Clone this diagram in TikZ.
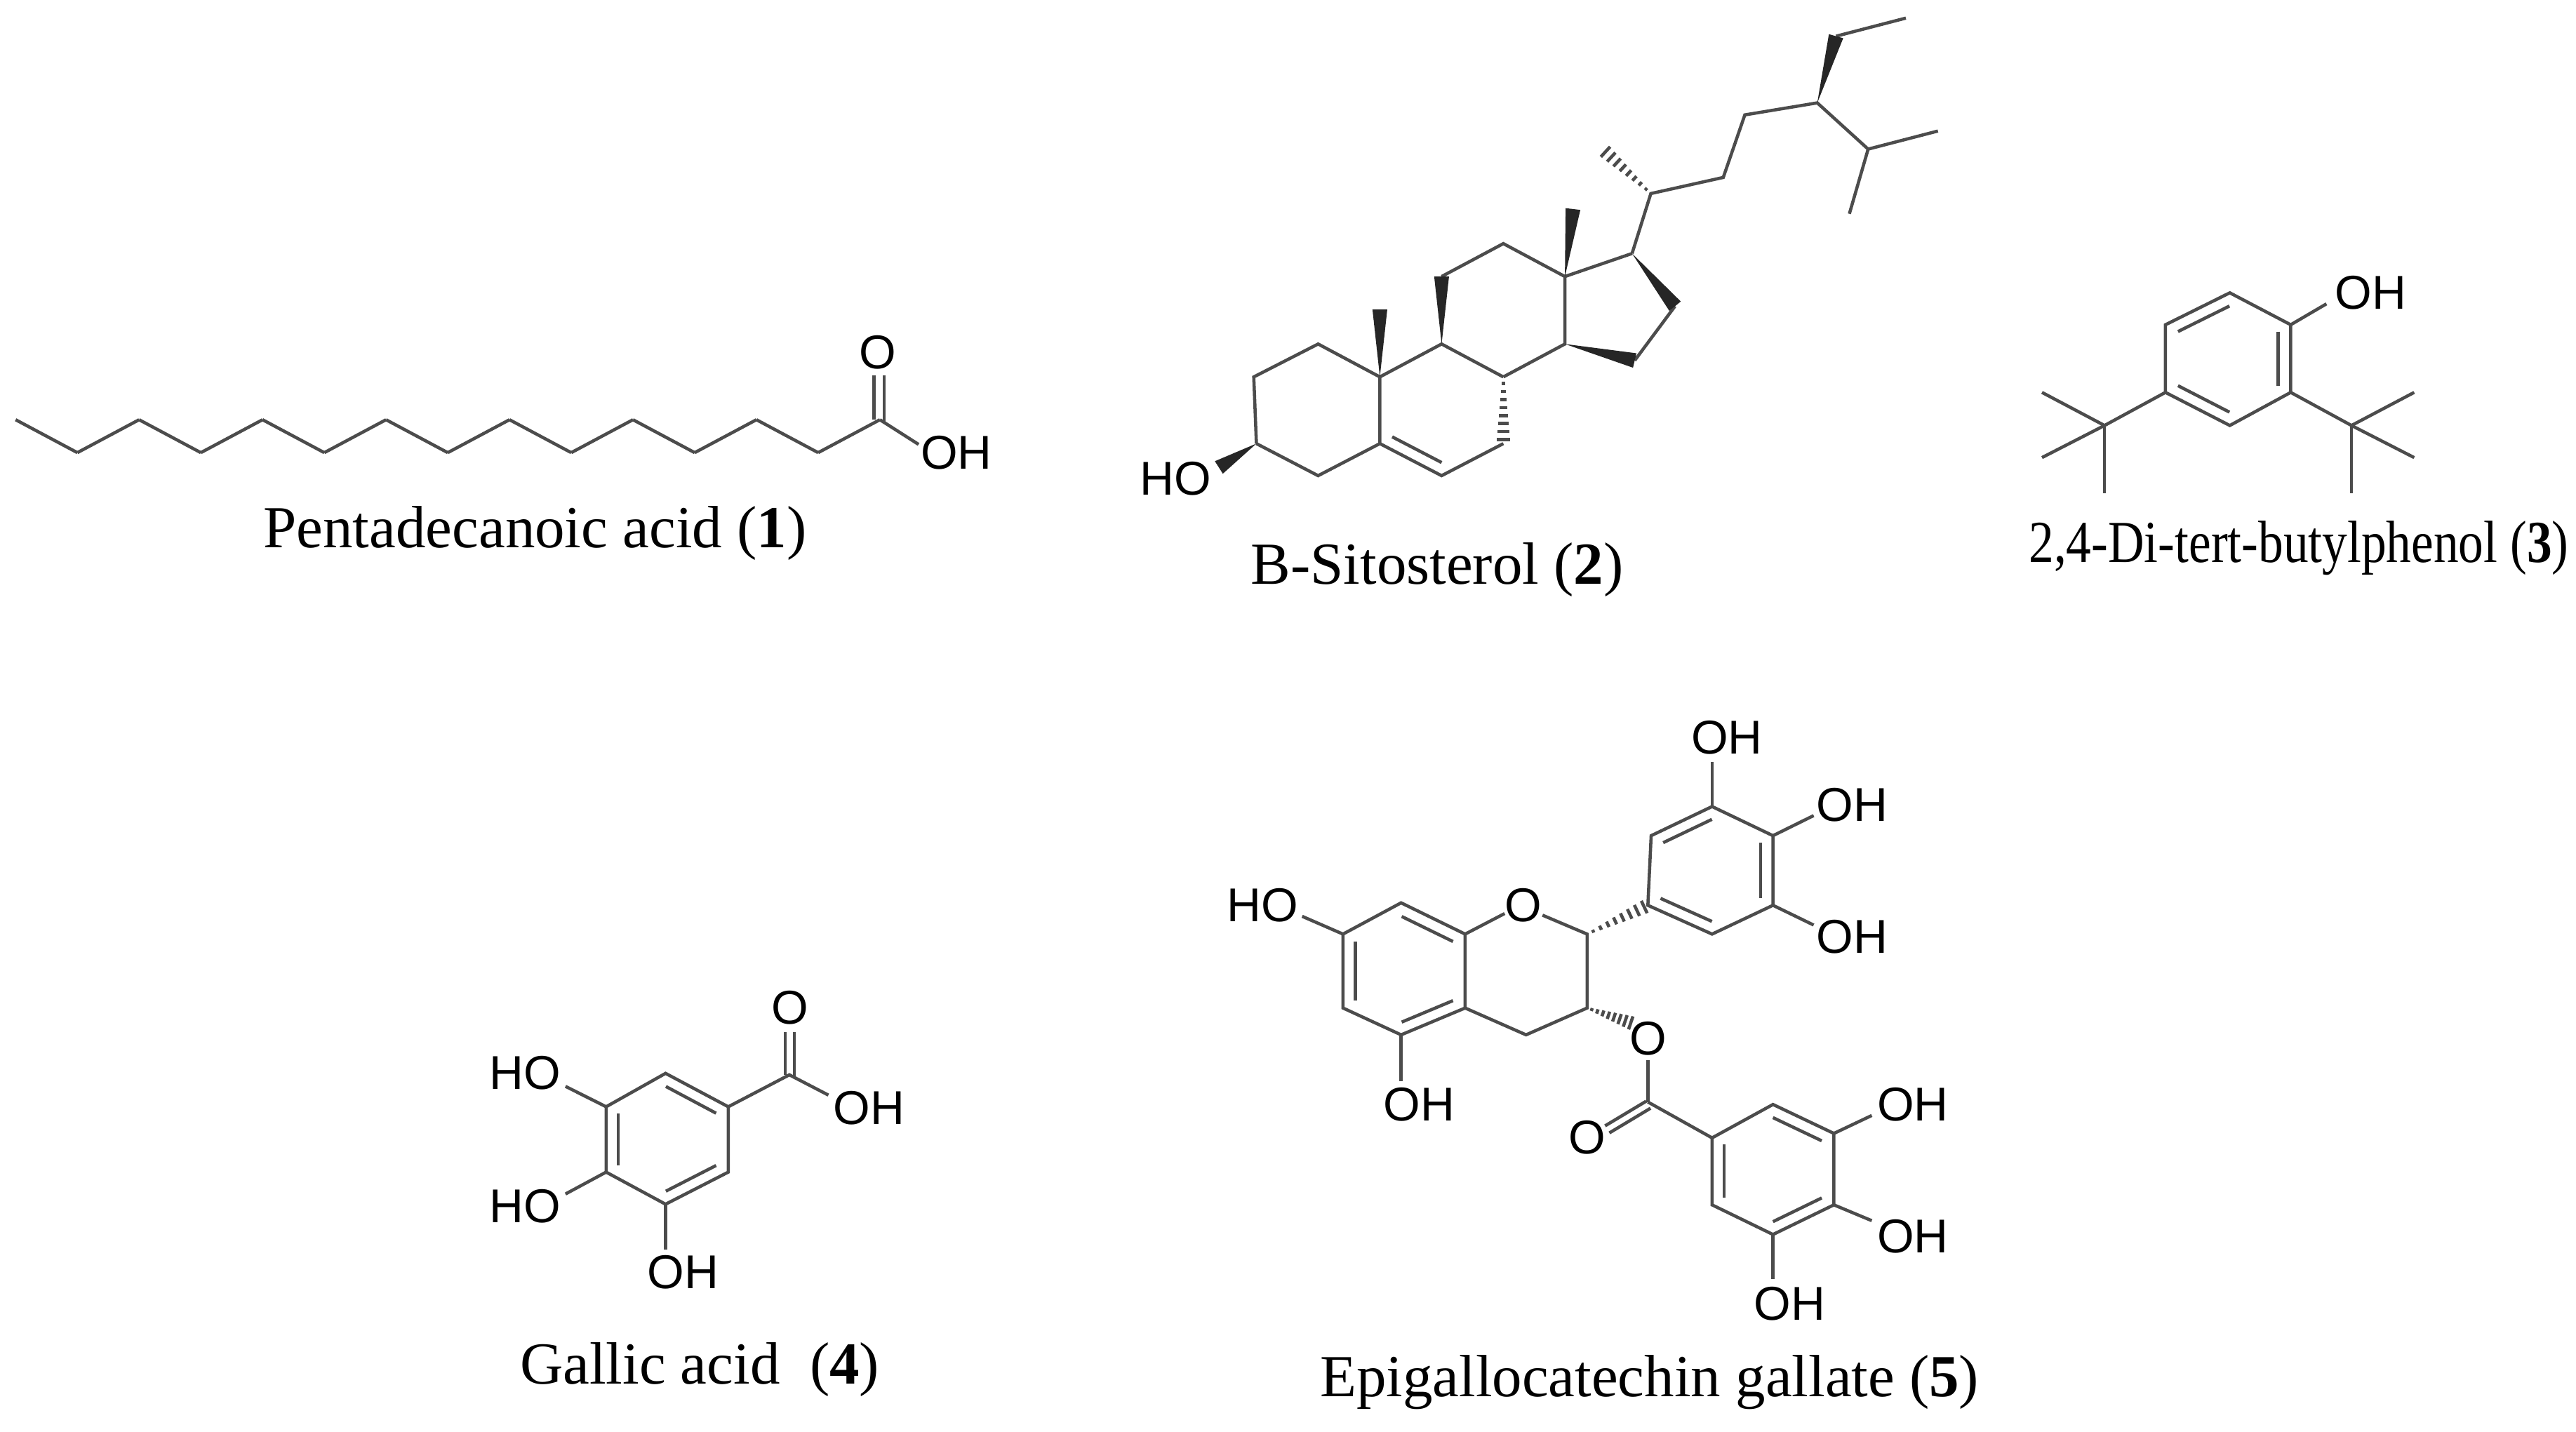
\documentclass[tikz,border=0pt]{standalone}
\usepackage{fontspec}
\setmainfont{Liberation Serif}
\newfontfamily\af{Liberation Sans}
\usetikzlibrary{calc}
\newcommand\wdg[2]{\fill[bondc] (#1) -- ($(#2)!0.045cm!90:(#1)$) -- ($(#2)!0.045cm!-90:(#1)$) -- cycle;}
\newcommand\hsh[2]{\foreach \t in {0.1,0.22,0.34,0.46,0.58,0.70,0.82,0.94}{\pgfmathsetmacro\w{0.15+1.1*\t}\draw[bond] ($(#1)!\t!(#2)!\w pt!90:(#2)$) -- ($(#1)!\t!(#2)!\w pt!-90:(#2)$);}}
\newcommand\inn[3]{\draw[bond] ($(#1)!0.2!(#3)$) -- ($(#2)!0.2!(#3)$);}
\begin{document}
\begin{tikzpicture}[x=0.01cm,y=-0.01cm,
  bond/.style={draw=black!70,line width=0.55pt},
  bondc/.style={fill=black!85},
  atom/.style={font=\af\fontsize{8.2}{9}\selectfont,inner sep=0pt},
  captxt/.style={font=\fontsize{10.3}{12}\selectfont,inner sep=0pt}]
\useasboundingbox[fill=white] (0,0) rectangle (1564.8,870);
% ---------- 1 ----------
\foreach \i in {0,...,14}{\pgfmathsetmacro\xx{9.5+37.5*\i}\pgfmathsetmacro\yy{isodd(\i)?275:255}\coordinate (c\i) at (\xx,\yy);}
\foreach \i [evaluate=\i as \j using int(\i+1)] in {0,...,13}{\draw[bond] (c\i) -- (c\j);}
\coordinate (c1o) at (558,270);
\draw[bond] (c14) -- (c1o);
\draw[bond] (531,255) -- (531,228); \draw[bond] (537,256) -- (537,228);
\node[atom] (o1) at (533,214) {O};
\node[atom] (oh1) at (581,275) {OH};
\node[captxt] (l1) at (325,324) {Pentadecanoic acid (\textbf{1})};
% ---------- 2 ----------
\coordinate (a1) at (761.6,229); \coordinate (a2) at (800.7,209); \coordinate (C10) at (838.2,229);
\coordinate (C5) at (838.2,269.5); \coordinate (a5) at (800.7,289); \coordinate (C3) at (763.2,269.5);
\coordinate (C9) at (875.7,209); \coordinate (C8) at (913.2,229); \coordinate (C7) at (913.2,269.5);
\coordinate (C6) at (875.7,289); \coordinate (cB) at (875.7,249);
\coordinate (C11) at (875.7,168); \coordinate (C12) at (913.2,148); \coordinate (C13) at (950.6,168);
\coordinate (C14) at (950.6,209); \coordinate (C17) at (991.4,154); \coordinate (C16) at (1017.5,186);
\coordinate (C15) at (993,219); \coordinate (C19) at (838.2,188); \coordinate (C18) at (955.5,127);
\coordinate (C20) at (1002.8,117.6); \coordinate (C21) at (973.5,90.6); \coordinate (C22) at (1046.8,107.8);
\coordinate (C23) at (1059.9,69.8); \coordinate (C24) at (1103.9,62.5); \coordinate (C28) at (1115.3,22);
\coordinate (C29) at (1157.7,11); \coordinate (C25) at (1134.8,90.6); \coordinate (C26) at (1177.2,79.6);
\coordinate (C27) at (1123.4,129.9); \coordinate (O3) at (740.4,284);
\draw[bond] (C3) -- (a1) -- (a2) -- (C10) -- (C5) -- (a5) -- (C3);
\draw[bond] (C10) -- (C9) -- (C8); \draw[bond] (C7) -- (C6) -- (C5);
\inn{C5}{C6}{cB}
\draw[bond] (C11) -- (C12) -- (C13) -- (C14) -- (C8);
\draw[bond] (C13) -- (C17); \draw[bond] (C16) -- (C15);
\draw[bond] (C17) -- (C20) -- (C22) -- (C23) -- (C24) -- (C25) -- (C26); \draw[bond] (C25) -- (C27);
\draw[bond] (C28) -- (C29);
\wdg{C10}{C19} \wdg{C9}{C11} \wdg{C13}{C18} \wdg{C17}{C16} \wdg{C14}{C15} \wdg{C24}{C28} \wdg{C3}{O3}
\hsh{C8}{C7} \hsh{C20}{C21}
\node[atom] (ho2) at (714,291) {HO};
\node[captxt] (l2) at (873,346) {B-Sitosterol (\textbf{2})};
% ---------- 3 ----------
\coordinate (r1) at (1354.5,177.9); \coordinate (r2) at (1391.5,197.3); \coordinate (r3) at (1391.5,238.4);
\coordinate (r4) at (1354.5,258.5); \coordinate (r5) at (1315.4,238.4); \coordinate (r6) at (1315.4,197.3);
\coordinate (rc) at (1353.5,218);
\draw[bond] (r1) -- (r2) -- (r3) -- (r4) -- (r5) -- (r6) -- cycle;
\inn{r6}{r1}{rc} \inn{r2}{r3}{rc} \inn{r4}{r5}{rc}
\coordinate (t1) at (1278.4,258.5); \coordinate (t2) at (1428.4,258.5);
\draw[bond] (r5) -- (t1) -- (1240.4,238.4); \draw[bond] (t1) -- (1240.4,278); \draw[bond] (t1) -- (1278.4,299.6);
\draw[bond] (r3) -- (t2) -- (1466.5,238.4); \draw[bond] (t2) -- (1466.5,278); \draw[bond] (t2) -- (1428.4,299.6);
\coordinate (r2o) at (1413.2,184.6);
\draw[bond] (r2) -- (r2o);
\node[atom] (oh3) at (1440,178) {OH};
\node[captxt,anchor=east] (l3) at (1561,333) {\scalebox{0.84}[1]{2,4-Di-tert-butylphenol (\textbf{3})}};
% ---------- 4 ----------
\coordinate (g1) at (404.3,652.1); \coordinate (g2) at (442.4,672.4); \coordinate (g3) at (442.4,712.1);
\coordinate (g4) at (404.3,731.6); \coordinate (g5) at (368.2,712.1); \coordinate (g6) at (368.2,672.4);
\coordinate (gc) at (405.3,692);
\draw[bond] (g1) -- (g2) -- (g3) -- (g4) -- (g5) -- (g6) -- cycle;
\inn{g1}{g2}{gc} \inn{g5}{g6}{gc} \inn{g3}{g4}{gc}
\coordinate (gC) at (479.5,653);
\draw[bond] (g2) -- (gC) -- (503.2,665.3);
\draw[bond] (477,653) -- (477,627); \draw[bond] (482.5,654) -- (482.5,627);
\draw[bond] (g6) -- (343.5,660); \draw[bond] (g5) -- (343.5,725.4); \draw[bond] (g4) -- (404.3,759);
\node[atom] (o4) at (480,612) {O};
\node[atom] (oh4a) at (528,673) {OH};
\node[atom] (ho4a) at (319,652) {HO};
\node[atom] (ho4b) at (319,733) {HO};
\node[atom] (oh4c) at (415,773) {OH};
\node[captxt] (l4) at (425,832) {Gallic acid\ \ (\textbf{4})};
% ---------- 5 ----------
\coordinate (e8) at (851.1,548.5); \coordinate (e8a) at (890,567.5); \coordinate (e4a) at (890,612.4);
\coordinate (e5) at (851.1,628.7); \coordinate (e6) at (815.8,612.4); \coordinate (e7) at (815.8,567.5);
\coordinate (eA) at (853,590);
\coordinate (e2) at (964.1,567.5); \coordinate (e3) at (964.1,612.4); \coordinate (e4) at (927,628.7);
\draw[bond] (e8) -- (e8a) -- (e4a) -- (e5) -- (e6) -- (e7) -- cycle;
\inn{e8}{e8a}{eA} \inn{e4a}{e5}{eA} \inn{e6}{e7}{eA}
\draw[bond] (e8a) -- (914,555); \draw[bond] (937,556) -- (e2) -- (e3) -- (e4) -- (e4a);
\draw[bond] (e7) -- (791,556.7); \draw[bond] (e5) -- (851.1,657);
\node[atom] (o5r) at (925.3,550) {O};
\node[atom] (ho5) at (767,550) {HO};
\node[atom] (oh5a) at (862,671) {OH};
% B ring
\coordinate (b1) at (1001,550); \coordinate (b2) at (1003,507.7); \coordinate (b3) at (1040,490);
\coordinate (b4) at (1077,507.7); \coordinate (b5) at (1077,550); \coordinate (b6) at (1040,567.5);
\coordinate (bc) at (1039.5,529);
\draw[bond] (b1) -- (b2) -- (b3) -- (b4) -- (b5) -- (b6) -- cycle;
\inn{b2}{b3}{bc} \inn{b4}{b5}{bc} \inn{b6}{b1}{bc}
\hsh{e2}{b1}
\draw[bond] (b3) -- (1040,463); \draw[bond] (b4) -- (1101.7,495.5); \draw[bond] (b5) -- (1101.7,562);
\node[atom] (oh5b) at (1049,448) {OH};
\node[atom] (oh5c) at (1125,489) {OH};
\node[atom] (oh5d) at (1125,569) {OH};
% ester
\coordinate (eO) at (992.3,622);
\hsh{e3}{eO}
\node[atom] (o5e) at (1001,631) {O};
\coordinate (eC) at (1001,669.5);
\draw[bond] (1001,644) -- (eC);
\draw[bond] (1000,669) -- (975,684); \draw[bond] (1002.6,673.3) -- (977.6,688.3);
\node[atom] (o5c) at (964,691) {O};
% galloyl
\coordinate (k1) at (1040,691.3); \coordinate (k2) at (1077,671); \coordinate (k3) at (1114,688.6);
\coordinate (k4) at (1114,732); \coordinate (k5) at (1077,750); \coordinate (k6) at (1040,732);
\coordinate (kc) at (1077,711);
\draw[bond] (eC) -- (k1);
\draw[bond] (k1) -- (k2) -- (k3) -- (k4) -- (k5) -- (k6) -- cycle;
\inn{k2}{k3}{kc} \inn{k6}{k1}{kc} \inn{k4}{k5}{kc}
\draw[bond] (k3) -- (1137,677.7); \draw[bond] (k4) -- (1137,741.6); \draw[bond] (k5) -- (1077,777);
\node[atom] (oh5e) at (1162,671) {OH};
\node[atom] (oh5f) at (1162,751) {OH};
\node[atom] (oh5g) at (1087,792) {OH};
\node[captxt] (l5) at (1002,840) {Epigallocatechin gallate (\textbf{5})};
\end{tikzpicture}
\end{document}
